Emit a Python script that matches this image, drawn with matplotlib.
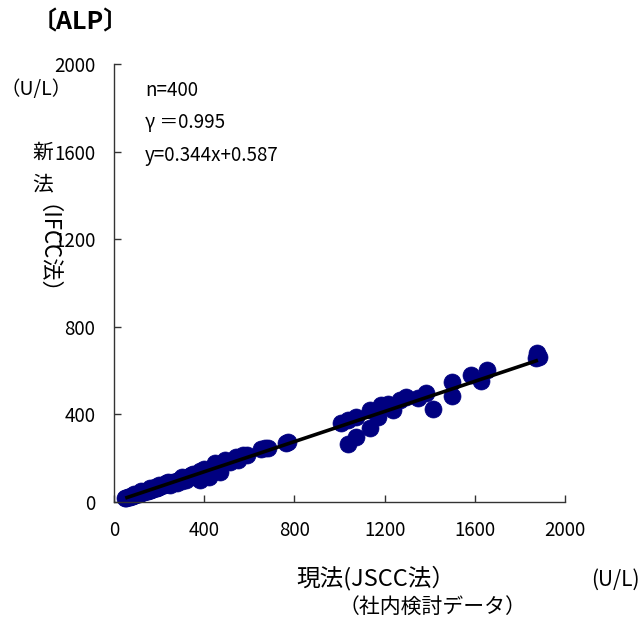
import matplotlib
matplotlib.use("Agg")
import matplotlib.pyplot as plt
import numpy as np

plt.rcParams['font.family'] = ['Noto Sans CJK JP', 'DejaVu Sans']

# Data (現法 JSCC vs 新法 IFCC)
x_vals = [50, 55, 60, 65, 70, 75, 80, 85, 90, 95, 100, 105, 110, 115, 120, 125, 130, 135,
          140, 145, 150, 155, 160, 165, 170, 175, 180, 185, 190, 195, 200, 210, 220, 230,
          240, 250, 260, 270, 280, 290, 300, 310, 320, 330, 340, 350, 360, 370, 380, 390,
          400, 410, 420, 430, 440, 450, 460,
          160, 200, 240, 250, 280, 300, 320, 340, 360, 380, 400, 420, 440, 460, 423, 472,
          494, 540, 570, 450, 380, 350, 300, 230, 180, 120, 90, 514, 550, 590,
          650, 670, 681, 762, 772,
          1007, 1038, 1073, 1038, 1073, 1136, 1136, 1171, 1185, 1216, 1238, 1269, 1296,
          1350, 1385, 1416, 1497, 1501, 1581, 1626, 1653, 1875, 1884, 1871]
y_vals = [18, 20, 21, 23, 24, 26, 28, 29, 31, 33, 35, 37, 38, 40, 42, 44, 45, 47,
          49, 50, 52, 54, 56, 57, 59, 61, 62, 64, 66, 68, 70, 72, 76, 80,
          83, 86, 90, 93, 97, 100, 104, 107, 110, 114, 117, 121, 124, 128, 131, 135,
          138, 142, 145, 149, 152, 156, 160,
          64, 78, 92, 78, 88, 112, 100, 125, 112, 142, 150, 135, 162, 168, 114, 137,
          192, 206, 215, 178, 100, 130, 95, 88, 70, 48, 36, 183, 192, 215,
          240, 246, 247, 270, 274,
          361, 374, 388, 265, 297, 420, 338, 388, 443, 447, 420, 466, 479,
          475, 498, 425, 548, 484, 580, 553, 603, 680, 662, 657]
slope = 0.344
intercept = 0.587
line_x = [50, 1880]

x_ticks = [0, 400, 800, 1200, 1600, 2000]
y_ticks = [0, 400, 800, 1200, 1600, 2000]

fig = plt.figure(figsize=(6.43, 6.23), dpi=100)
ax = fig.add_axes([114/643, (623-502)/623, (565-114)/643, (502-64)/623])

ax.scatter(x_vals, y_vals, s=150, color='#000080', edgecolors='#000080', linewidths=0.5,
           zorder=2, clip_on=False)
lx = np.array(line_x, dtype=float)
ax.plot(lx, slope*lx + intercept, color='black', lw=2.6, zorder=3, solid_capstyle='butt')

ax.set_xlim(0, 2000)
ax.set_ylim(0, 2000)
ax.set_xticks(x_ticks)
ax.set_yticks(y_ticks)
ax.set_xticklabels([str(v) for v in x_ticks])
ax.set_yticklabels([str(v) for v in y_ticks])
ax.tick_params(direction='in', length=5, width=1, labelsize=13.5, colors='#333333',
               labelcolor='black')
ax.tick_params(axis='y', pad=13.5)
ax.tick_params(axis='x', pad=13)
for s in ['top', 'right']:
    ax.spines[s].set_visible(False)
for s in ['left', 'bottom']:
    ax.spines[s].set_color('#333333')
    ax.spines[s].set_linewidth(1)

def px(x, y):
    return x/643, 1 - y/623

fig.text(*px(80, 22), '〔ALP〕', fontsize=18, fontweight='bold', va='center', ha='center')
fig.text(*px(0, 90), '（U/L）', fontsize=14, va='center', ha='left')
fig.text(*px(145, 90), 'n=400', fontsize=13.5, va='center', ha='left')
fig.text(*px(145, 123), 'γ ＝0.995', fontsize=13.5, va='center', ha='left')
fig.text(*px(145, 155), 'y=0.344x+0.587', fontsize=13.5, va='center', ha='left')
fig.text(*px(43, 153), '新', fontsize=15, va='center', ha='center')
fig.text(*px(43, 184), '法', fontsize=15, va='center', ha='center')
fig.text(*px(35, 261), '（IFCC法）', fontsize=16, va='center', ha='center', rotation=-90)
fig.text(*px(376, 578), '現法(JSCC法）', fontsize=17, va='center', ha='center')
fig.text(*px(640, 580), '(U/L)', fontsize=15, va='center', ha='right')
fig.text(*px(432, 607), '（社内検討データ）', fontsize=15, va='center', ha='center')

fig.savefig('out.png', dpi=100)
